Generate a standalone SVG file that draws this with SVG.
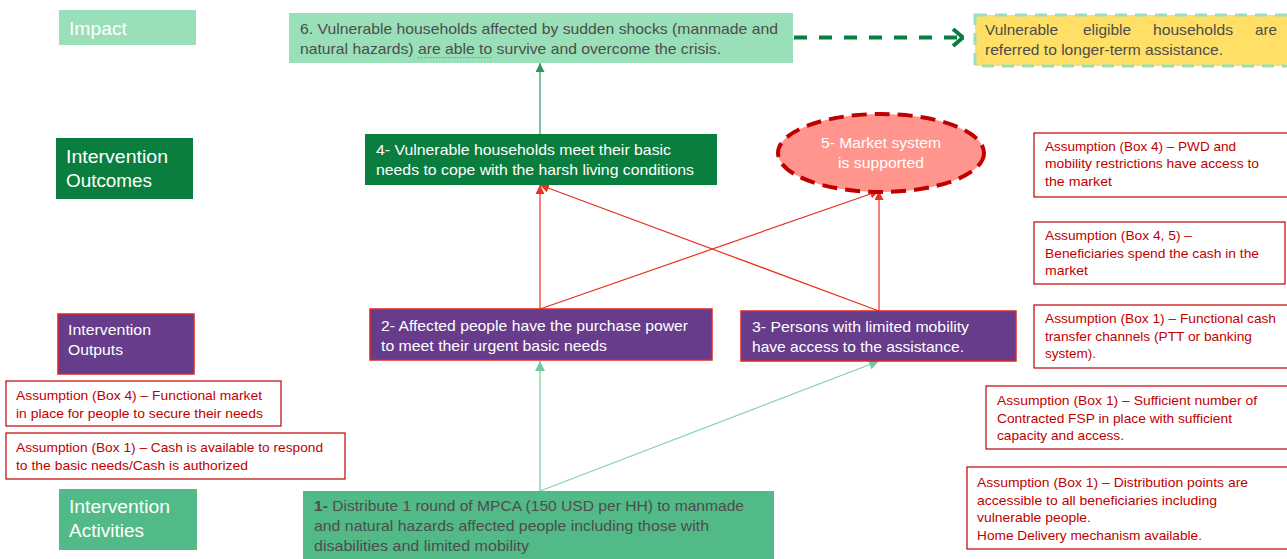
<svg xmlns="http://www.w3.org/2000/svg" width="1287" height="559" viewBox="0 0 1287 559">
<style>
text{font-family:"Liberation Sans",Arial,sans-serif;}
.lbl{fill:#ffffff;font-size:18px;}
.wt{fill:#ffffff;font-size:15px;}
.gt{fill:#4d4d4d;font-size:15px;}
.as{fill:#c00000;font-size:13.5px;}
.asb{fill:#ffffff;stroke:#c00000;stroke-width:1.2;}
.pur{fill:#663c8b;stroke:#e0261e;stroke-width:1.5;}
.lg{fill:#99dfb7;}
.dg{fill:#0a7e3e;}
.mg{fill:#52ba86;}
.red{stroke:#e8301e;stroke-width:1.2;fill:none;}
.grn{stroke:#2e9460;stroke-width:1.2;fill:none;}
.lgl{stroke:#7fd3a8;stroke-width:1.3;fill:none;}
</style>
<defs>
<marker id="ar" viewBox="0 0 10 10" refX="10" refY="5" markerWidth="9" markerHeight="9" markerUnits="userSpaceOnUse" orient="auto"><path d="M0,0 L10,5 L0,10 z" fill="#e8301e"/></marker>
<marker id="ag" viewBox="0 0 10 10" refX="10" refY="5" markerWidth="9" markerHeight="9" markerUnits="userSpaceOnUse" orient="auto"><path d="M0,0 L10,5 L0,10 z" fill="#2e9460"/></marker>
<marker id="al" viewBox="0 0 10 10" refX="10" refY="5" markerWidth="10" markerHeight="10" markerUnits="userSpaceOnUse" orient="auto"><path d="M0,0 L10,5 L0,10 z" fill="#6fcb9c"/></marker>
<marker id="ch" viewBox="0 0 12 20" refX="11" refY="10" markerWidth="12" markerHeight="20" markerUnits="userSpaceOnUse" orient="auto"><path d="M1,1.5 L11,10 L1,18.5" fill="none" stroke="#0a7e3e" stroke-width="4"/></marker>
</defs>

<g id="label-impact">
<rect class="lg" x="59" y="10" width="137" height="35"/>
<text class="lbl" x="69" y="35" textLength="58" lengthAdjust="spacingAndGlyphs">Impact</text>
</g>
<g id="label-outcomes">
<rect class="dg" x="56" y="138" width="137" height="61"/>
<text class="lbl" x="66" y="163" textLength="102" lengthAdjust="spacingAndGlyphs">Intervention</text>
<text class="lbl" x="66" y="187" textLength="86" lengthAdjust="spacingAndGlyphs">Outcomes</text>
</g>
<g id="label-outputs">
<rect class="pur" x="58" y="314" width="136" height="60"/>
<text class="wt" x="68" y="335" textLength="83" lengthAdjust="spacingAndGlyphs">Intervention</text>
<text class="wt" x="68" y="355" textLength="55" lengthAdjust="spacingAndGlyphs">Outputs</text>
</g>
<g id="label-activities">
<rect class="mg" x="59" y="489" width="138" height="61"/>
<text class="lbl" x="69" y="513" textLength="101" lengthAdjust="spacingAndGlyphs">Intervention</text>
<text class="lbl" x="69" y="537" textLength="75" lengthAdjust="spacingAndGlyphs">Activities</text>
</g>

<g id="connectors">
<line class="grn" x1="540" y1="134" x2="540" y2="63" marker-end="url(#ag)"/>
<line x1="794" y1="37.5" x2="963" y2="37.5" stroke="#0a7e3e" stroke-width="4" stroke-dasharray="13 12" marker-end="url(#ch)"/>
<line class="red" x1="540" y1="309" x2="540" y2="185" marker-end="url(#ar)"/>
<line class="red" x1="540" y1="309" x2="879" y2="191" marker-end="url(#ar)"/>
<line class="red" x1="879" y1="311" x2="540" y2="185" marker-end="url(#ar)"/>
<line class="red" x1="879" y1="311" x2="879" y2="191" marker-end="url(#ar)"/>
<line class="lgl" x1="540" y1="491" x2="540" y2="361" marker-end="url(#al)"/>
<line class="lgl" x1="540" y1="491" x2="879" y2="361" marker-end="url(#al)"/>
</g>

<g id="box6">
<rect class="lg" x="289" y="13" width="504" height="50"/>
<text class="gt" x="300" y="34" textLength="478" lengthAdjust="spacingAndGlyphs">6. Vulnerable households affected by sudden shocks (manmade and</text>
<text class="gt" x="300" y="54" textLength="421" lengthAdjust="spacingAndGlyphs">natural hazards) are able to survive and overcome the crisis.</text>
<line x1="418" y1="57.5" x2="492" y2="57.5" stroke="#c8882a" stroke-width="1.2" stroke-dasharray="1.5 1.5"/>
</g>
<g id="box-referral">
<rect x="975" y="15" width="314" height="51" fill="#ffdf66" stroke="#99dfb7" stroke-width="3" stroke-dasharray="12 8"/>
<text class="gt" y="35"><tspan x="985" textLength="73" lengthAdjust="spacingAndGlyphs">Vulnerable</tspan><tspan x="1083" textLength="48" lengthAdjust="spacingAndGlyphs">eligible</tspan><tspan x="1153" textLength="80" lengthAdjust="spacingAndGlyphs">households</tspan><tspan x="1255" textLength="22" lengthAdjust="spacingAndGlyphs">are</tspan></text>
<text class="gt" x="985" y="55" textLength="238" lengthAdjust="spacingAndGlyphs">referred to longer-term assistance.</text>
</g>
<g id="box4">
<rect class="dg" x="365" y="134" width="352" height="51"/>
<text class="wt" x="376" y="155" textLength="295" lengthAdjust="spacingAndGlyphs">4- Vulnerable households meet their basic</text>
<text class="wt" x="376" y="175" textLength="318" lengthAdjust="spacingAndGlyphs">needs to cope with the harsh living conditions</text>
</g>
<g id="box5">
<ellipse cx="881" cy="153" rx="103" ry="39" fill="#ff958c" stroke="#c00000" stroke-width="4" stroke-dasharray="15 8"/>
<text class="wt" x="881" y="148" text-anchor="middle" textLength="120" lengthAdjust="spacingAndGlyphs">5- Market system</text>
<text class="wt" x="881" y="168" text-anchor="middle" textLength="86" lengthAdjust="spacingAndGlyphs">is supported</text>
</g>
<g id="box2">
<rect class="pur" x="370" y="309" width="342" height="51"/>
<text class="wt" x="381" y="331" textLength="307" lengthAdjust="spacingAndGlyphs">2- Affected people have the purchase power</text>
<text class="wt" x="381" y="351" textLength="226" lengthAdjust="spacingAndGlyphs">to meet their urgent basic needs</text>
</g>
<g id="box3">
<rect class="pur" x="741" y="311" width="275" height="50"/>
<text class="wt" x="752" y="332" textLength="217" lengthAdjust="spacingAndGlyphs">3- Persons with limited mobility</text>
<text class="wt" x="752" y="352" textLength="212" lengthAdjust="spacingAndGlyphs">have access to the assistance.</text>
</g>
<g id="box1">
<rect class="mg" x="303" y="491" width="471" height="70"/>
<text class="gt" x="314" y="511" textLength="430" lengthAdjust="spacingAndGlyphs"><tspan font-weight="bold">1-</tspan> Distribute 1 round of MPCA (150 USD per HH) to manmade</text>
<text class="gt" x="314" y="531" textLength="395" lengthAdjust="spacingAndGlyphs">and natural hazards affected people including those with</text>
<text class="gt" x="314" y="551" textLength="215" lengthAdjust="spacingAndGlyphs">disabilities and limited mobility</text>
</g>

<g id="assump-pwd">
<rect class="asb" x="1034" y="133" width="260" height="64"/>
<text class="as" x="1045" y="151" textLength="191" lengthAdjust="spacingAndGlyphs">Assumption (Box 4) – PWD and</text>
<text class="as" x="1045" y="168" textLength="214" lengthAdjust="spacingAndGlyphs">mobility restrictions have access to</text>
<text class="as" x="1045" y="186" textLength="67" lengthAdjust="spacingAndGlyphs">the market</text>
</g>
<g id="assump-spend">
<rect class="asb" x="1034" y="222" width="251" height="62"/>
<text class="as" x="1045" y="240" textLength="147" lengthAdjust="spacingAndGlyphs">Assumption (Box 4, 5) –</text>
<text class="as" x="1045" y="258" textLength="214" lengthAdjust="spacingAndGlyphs">Beneficiaries spend the cash in the</text>
<text class="as" x="1045" y="275" textLength="43" lengthAdjust="spacingAndGlyphs">market</text>
</g>
<g id="assump-channels">
<rect class="asb" x="1034" y="305" width="260" height="63"/>
<text class="as" x="1045" y="323" textLength="231" lengthAdjust="spacingAndGlyphs">Assumption (Box 1) – Functional cash</text>
<text class="as" x="1045" y="341" textLength="207" lengthAdjust="spacingAndGlyphs">transfer channels (PTT or banking</text>
<text class="as" x="1045" y="358" textLength="51" lengthAdjust="spacingAndGlyphs">system).</text>
</g>
<g id="assump-fsp">
<rect class="asb" x="986" y="386" width="308" height="63"/>
<text class="as" x="997" y="405" textLength="260" lengthAdjust="spacingAndGlyphs">Assumption (Box 1) – Sufficient number of</text>
<text class="as" x="997" y="423" textLength="235" lengthAdjust="spacingAndGlyphs">Contracted FSP in place with sufficient</text>
<text class="as" x="997" y="440" textLength="127" lengthAdjust="spacingAndGlyphs">capacity and access.</text>
</g>
<g id="assump-distribution">
<rect class="asb" x="967" y="467" width="327" height="82"/>
<text class="as" x="977" y="487" textLength="271" lengthAdjust="spacingAndGlyphs">Assumption (Box 1) – Distribution points are</text>
<text class="as" x="977" y="505" textLength="240" lengthAdjust="spacingAndGlyphs">accessible to all beneficiaries including</text>
<text class="as" x="977" y="522" textLength="114" lengthAdjust="spacingAndGlyphs">vulnerable people.</text>
<text class="as" x="977" y="540" textLength="225" lengthAdjust="spacingAndGlyphs">Home Delivery mechanism available.</text>
</g>
<g id="assump-market">
<rect class="asb" x="6" y="381" width="275" height="45"/>
<text class="as" x="16" y="400" textLength="246" lengthAdjust="spacingAndGlyphs">Assumption (Box 4) – Functional market</text>
<text class="as" x="16" y="418" textLength="247" lengthAdjust="spacingAndGlyphs">in place for people to secure their needs</text>
</g>
<g id="assump-cash">
<rect class="asb" x="6" y="433" width="339" height="46"/>
<text class="as" x="16" y="452" textLength="307" lengthAdjust="spacingAndGlyphs">Assumption (Box 1) – Cash is available to respond</text>
<text class="as" x="16" y="470" textLength="232" lengthAdjust="spacingAndGlyphs">to the basic needs/Cash is authorized</text>
</g>
</svg>
